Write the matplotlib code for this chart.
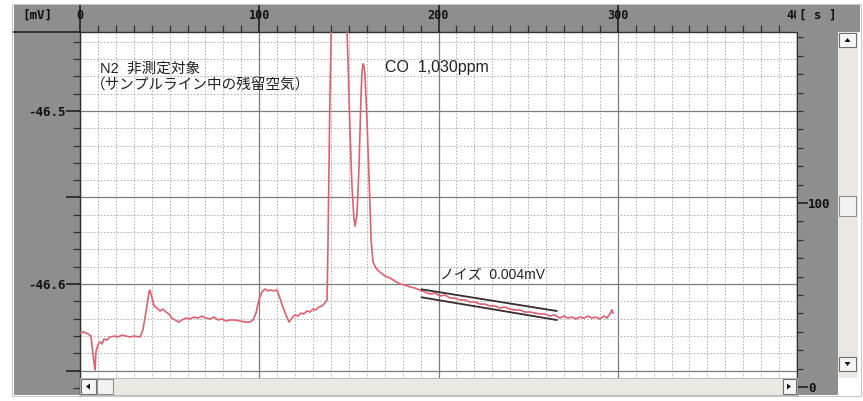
import matplotlib
matplotlib.use('Agg')
import matplotlib.pyplot as plt
from matplotlib.patches import Rectangle, Polygon
from matplotlib.lines import Line2D
from matplotlib.ticker import FixedLocator, MultipleLocator
from matplotlib.transforms import Bbox, TransformedBbox

plt.rcParams['axes.unicode_minus'] = False

# ---------------- data ----------------
time_s = [0.0, 2.2, 4.5, 6.1, 7.3, 8.4, 8.9, 10.0, 11.2, 12.3, 13.4, 15.1, 16.7, 19.0,
          21.2, 23.4, 25.7, 27.9, 30.1, 33.5, 35.1, 36.8, 38.5, 39.0, 40.2, 41.3, 42.9,
          44.6, 46.3, 48.0, 49.6, 51.3, 53.0, 55.2, 56.9, 59.1, 61.3, 63.6, 65.8, 68.0,
          70.3, 72.5, 74.7, 77.0, 79.2, 81.4, 83.7, 86.4, 89.2, 92.0, 94.8, 96.5, 98.2,
          99.8, 101.5, 103.2, 104.9, 106.5, 108.2, 109.9, 111.5, 113.2, 114.9, 116.6,
          118.2, 119.9, 121.6, 123.3, 124.9, 126.6, 128.3, 129.9, 131.6, 133.3, 135.0,
          136.6, 137.8, 138.3, 139.4, 140.5, 144.5, 148.4, 149.5, 150.6, 151.7, 152.8,
          153.4, 154.5, 155.6, 156.7, 157.3, 157.9, 158.4, 159.0, 160.1, 161.3, 162.4,
          163.5, 165.1, 167.3, 170.1, 172.9, 175.7, 178.5, 181.3, 184.0, 186.8, 189.6,
          192.4, 195.2, 198.0, 200.8, 203.6, 206.4, 209.1, 211.9, 214.7, 217.5, 220.3,
          223.1, 225.9, 228.7, 231.5, 234.2, 237.0, 239.8, 242.6, 245.4, 248.2, 251.0,
          253.8, 256.6, 259.3, 262.1, 264.9, 267.7, 269.9, 272.2, 274.4, 276.6, 278.9,
          281.1, 283.3, 285.6, 287.8, 290.0, 292.3, 293.9, 295.6, 296.8, 297.3]
signal_mv = [-46.6283, -46.6277, -46.6289, -46.6301, -46.6410, -46.6497, -46.6393, -46.6353,
             -46.6335, -46.6347, -46.6318, -46.6324, -46.6306, -46.6301, -46.6306, -46.6295,
             -46.6301, -46.6306, -46.6301, -46.6306, -46.6266, -46.6162, -46.6046, -46.6035,
             -46.6081, -46.6127, -46.6139, -46.6156, -46.6145, -46.6162, -46.6173, -46.6197,
             -46.6208, -46.6220, -46.6208, -46.6197, -46.6202, -46.6191, -46.6197, -46.6185,
             -46.6197, -46.6202, -46.6191, -46.6208, -46.6202, -46.6214, -46.6208, -46.6208,
             -46.6214, -46.6220, -46.6220, -46.6208, -46.6168, -46.6092, -46.6046, -46.6029,
             -46.6040, -46.6035, -46.6040, -46.6035, -46.6081, -46.6133, -46.6179, -46.6220,
             -46.6197, -46.6179, -46.6185, -46.6168, -46.6173, -46.6156, -46.6162, -46.6145,
             -46.6150, -46.6133, -46.6127, -46.6110, -46.6092, -46.5803, -46.4936, -46.4358,
             -46.2600, -46.4358, -46.4705, -46.5110, -46.5428, -46.5618, -46.5665, -46.5601,
             -46.5341, -46.4936, -46.4775, -46.4728, -46.4740, -46.4792, -46.5052, -46.5399,
             -46.5746, -46.5873, -46.5908, -46.5931, -46.5954, -46.5965, -46.5983, -46.6000,
             -46.6006, -46.6017, -46.6023, -46.6035, -46.6046, -46.6058, -46.6052, -46.6069,
             -46.6064, -46.6081, -46.6081, -46.6092, -46.6092, -46.6104, -46.6104, -46.6116,
             -46.6116, -46.6127, -46.6127, -46.6139, -46.6133, -46.6145, -46.6150, -46.6150,
             -46.6162, -46.6162, -46.6168, -46.6173, -46.6173, -46.6185, -46.6179, -46.6197,
             -46.6185, -46.6197, -46.6191, -46.6202, -46.6191, -46.6197, -46.6185, -46.6197,
             -46.6191, -46.6202, -46.6185, -46.6197, -46.6173, -46.6150, -46.6168]

noise_t = [190.6, 265.9]
noise_upper_mv = [-46.6031, -46.6156]
noise_lower_mv = [-46.6077, -46.6208]

x_ticks = [0, 100, 200, 300, 400]
x_tick_labels = ['0', '100', '200', '300', '400']
y_ticks = [-46.65, -46.60, -46.55, -46.50]
y_tick_labels = ['', '-46.6', '', '-46.5']
right_ticks = [0, 100]
right_tick_labels = ['0', '100']

note_n2 = 'N2  非測定対象'
note_air = '（サンプルライン中の残留空気）'
note_co = 'CO  1,030ppm'
note_noise = 'ノイズ  0.004mV'

# ---------------- figure ----------------
W, H = 863, 401
GREY = '#8e8e8e'
SB = '#ebe8e4'
fig = plt.figure(figsize=(W / 100, H / 100), dpi=100)
fig.patch.set_facecolor('white')


def box(x0, y0, x1, y1):
    return [x0 / W, 1 - y1 / H, (x1 - x0) / W, (y1 - y0) / H]


def rect(x0, y0, x1, y1, fc, ec='none', lw=0.0, z=-1):
    r = Rectangle((x0 / W, 1 - y1 / H), (x1 - x0) / W, (y1 - y0) / H,
                  transform=fig.transFigure, facecolor=fc, edgecolor=ec,
                  linewidth=lw, zorder=z)
    fig.add_artist(r)


def tri(pts, z=5):
    p = Polygon([(x / W, 1 - y / H) for x, y in pts], closed=True,
                transform=fig.transFigure, facecolor='#111111', edgecolor='none', zorder=z)
    fig.add_artist(p)


# background panels
rect(12, 4, 861, 396, 'none', ec='#c8c8c8', lw=0.8, z=-2)
rect(14, 5, 860, 32, GREY)
rect(14, 32, 80, 395, GREY)
rect(797, 32, 838, 395, GREY)
rect(838, 32, 858, 378, SB)
fig.add_artist(Line2D([14 / W, 80 / W], [1 - 32 / H, 1 - 32 / H], transform=fig.transFigure,
                      color='#202020', lw=1.2, zorder=-1))

# main axes
ax = fig.add_axes(box(80, 32, 797, 395))
ax.set_xlim(0, 400)
ax.set_ylim(-46.66416, -46.45434)
ax.set_facecolor('white')

ax.xaxis.set_ticks_position('top')
ax.xaxis.set_major_locator(FixedLocator(x_ticks))
ax.set_xticklabels(x_tick_labels)
ax.xaxis.set_minor_locator(MultipleLocator(10))
ax.tick_params(axis='x', which='major', direction='out', length=19.5, width=1.2,
               color='#202020', pad=-12, labelsize=8.5)
ax.tick_params(axis='x', which='minor', direction='out', length=5, width=0.9, color='#303030')

ax.yaxis.set_major_locator(FixedLocator(y_ticks))
ax.set_yticklabels(y_tick_labels)
ax.yaxis.set_minor_locator(MultipleLocator(0.01))
ax.tick_params(axis='y', which='major', direction='out', length=10, width=1.2,
               color='#202020', pad=0.5, labelsize=9)
ax.tick_params(axis='y', which='minor', direction='out', length=5, width=0.9, color='#303030')
for lbl in ax.get_xticklabels() + ax.get_yticklabels():
    lbl.set_fontfamily('DejaVu Sans Mono')
    lbl.set_fontweight('bold')
    lbl.set_color('#111111')

# the "[ s ]" box hides most of the last top label, as in the reference
clip = TransformedBbox(Bbox.from_extents(0, 0, 795.5 / W, 1), fig.transFigure)
last_lbl = ax.get_xticklabels()[-1]
last_lbl.set_clip_box(clip)
last_lbl.set_clip_on(True)

ax.set_axisbelow(True)
ax.grid(which='major', color='#7c7c7c', lw=0.9)
ax.grid(which='minor', color='#a6a6a6', lw=0.6, ls=(0, (2, 2)))
for s in ['left', 'top', 'right']:
    ax.spines[s].set_color('#303030')
    ax.spines[s].set_linewidth(1.0)
ax.spines['bottom'].set_visible(False)

ax.plot(time_s, signal_mv, color='#e0606e', lw=1.2, zorder=3)
ax.plot(noise_t, noise_upper_mv, color='#3a2c2c', lw=1.3, zorder=4)
ax.plot(noise_t, noise_lower_mv, color='#3a2c2c', lw=1.3, zorder=4)

fam = ['Liberation Sans', 'Noto Sans CJK JP']
ax.text(11.2, -46.4757, note_n2, family=fam, fontsize=10.5, color='#222222', va='center', ha='left')
ax.text(6.0, -46.4855, note_air, family=fam, fontsize=10.5, color='#222222', va='center', ha='left')
ax.text(170.1, -46.4751, note_co, family=fam, fontsize=11.5, color='#222222', va='center', ha='left')
ax.text(200.8, -46.5948, note_noise, family=fam, fontsize=10, color='#222222', va='center', ha='left')

# right axis panel
axr = fig.add_axes(box(797, 32, 838, 395))
axr.set_facecolor(GREY)
axr.set_ylim(-4.35, 192.9)
axr.set_xticks([])
for s in ['top', 'right', 'bottom']:
    axr.spines[s].set_visible(False)
axr.spines['left'].set_color('#303030')
axr.yaxis.set_major_locator(FixedLocator(right_ticks))
axr.set_yticklabels(right_tick_labels)
axr.yaxis.set_minor_locator(MultipleLocator(10))
axr.tick_params(axis='y', which='major', direction='in', length=8, width=1.2,
                color='#202020', pad=-8, labelsize=9)
axr.tick_params(axis='y', which='minor', direction='in', length=4, width=0.9, color='#303030')
for lbl in axr.get_yticklabels():
    lbl.set_ha('left')
    lbl.set_fontfamily('DejaVu Sans Mono')
    lbl.set_fontweight('bold')
    lbl.set_color('#111111')

# header labels
fig.text(37 / W, 1 - 15 / H, '[mV]', family='DejaVu Sans Mono', fontweight='bold',
         fontsize=9, ha='center', va='center', color='#111111')
rect(796, 5, 838, 31.5, GREY, z=3)
fig.text(818 / W, 1 - 15 / H, '[ s ]', family='DejaVu Sans Mono', fontweight='bold',
         fontsize=9, ha='center', va='center', color='#111111', zorder=4)

# scrollbars
rect(80, 378, 797, 395, SB, ec='#b0b0b0', lw=0.6, z=3)
rect(81, 379, 96, 394, '#f6f6f6', ec='#707070', lw=0.8, z=4)
rect(97, 379, 113, 394, '#f2f2f2', ec='#909090', lw=0.8, z=4)
rect(783, 379, 796, 394, '#f6f6f6', ec='#707070', lw=0.8, z=4)
tri([(86, 386.5), (90, 383.5), (90, 389.5)])
tri([(791, 386.5), (787, 383.5), (787, 389.5)])
rect(838, 378, 858, 395, 'white', z=3)
rect(839, 33, 856, 47, '#f6f6f6', ec='#707070', lw=0.8, z=4)
rect(839, 196, 856, 216, '#f2f2f2', ec='#909090', lw=0.8, z=4)
rect(839, 357, 856, 371, '#f6f6f6', ec='#707070', lw=0.8, z=4)
tri([(847.5, 38), (844.5, 42), (850.5, 42)])
tri([(847.5, 366), (844.5, 362), (850.5, 362)])

fig.savefig('out.png', dpi=100)
